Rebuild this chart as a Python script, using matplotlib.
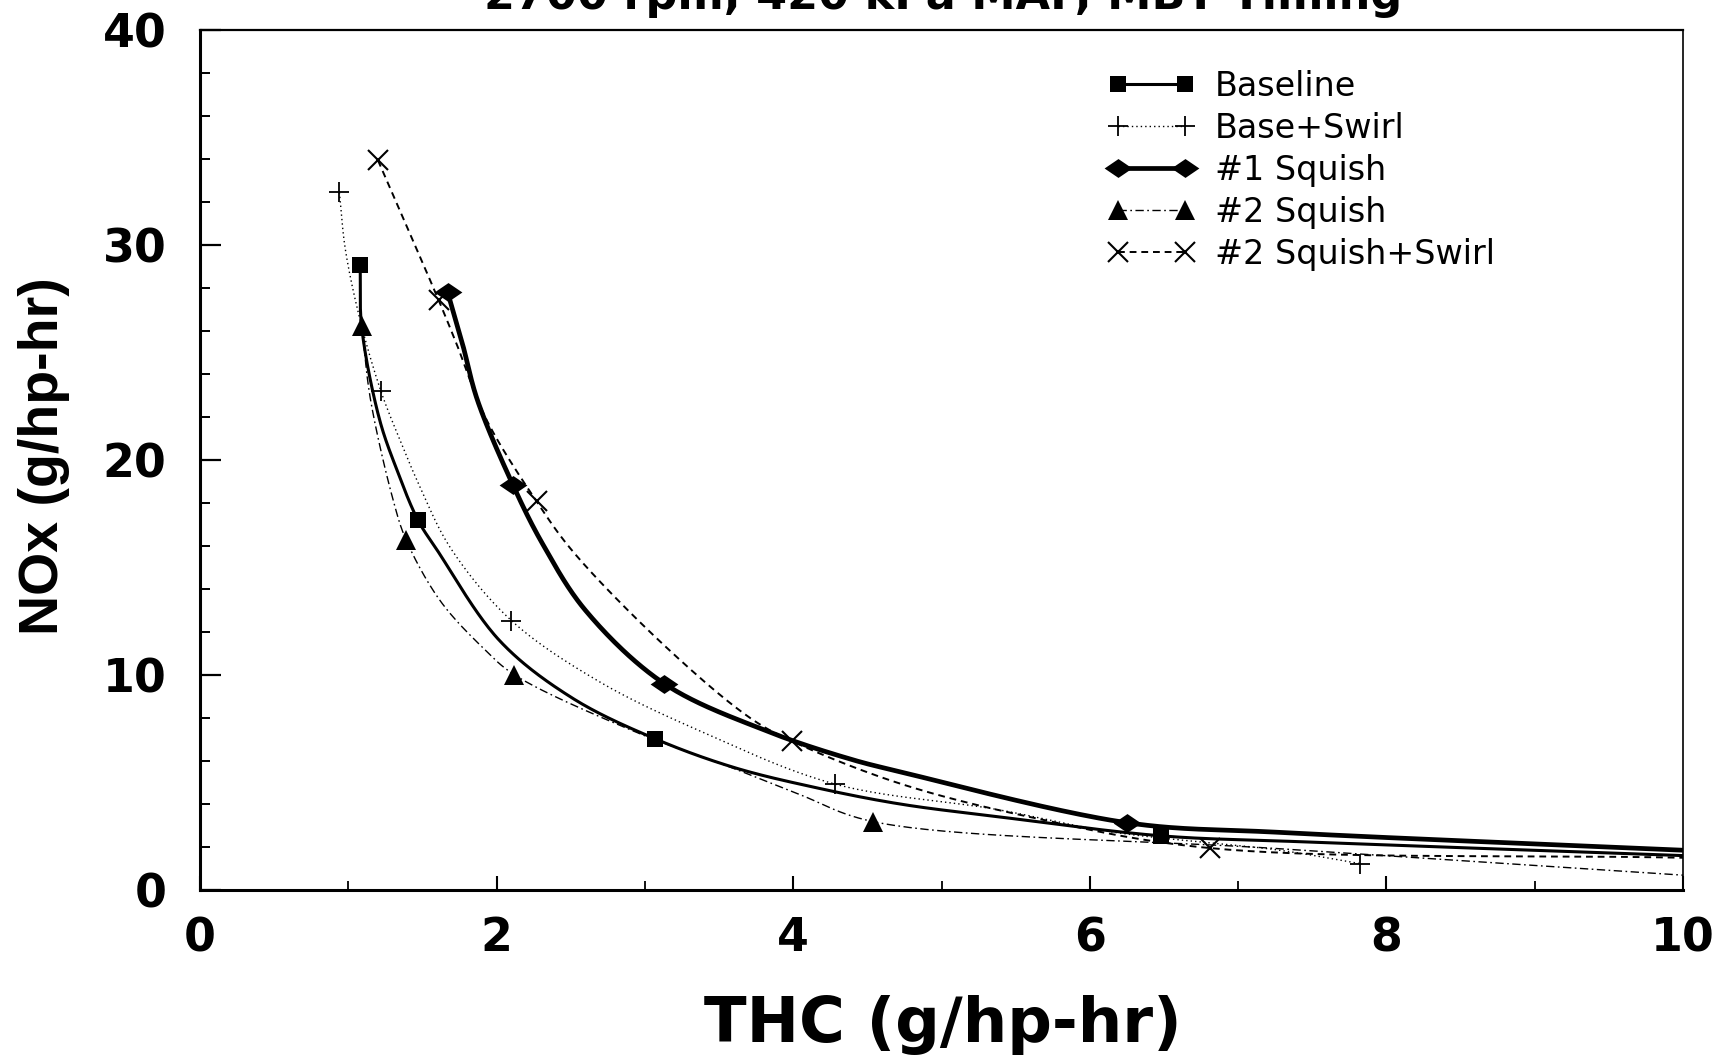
import numpy as np
import matplotlib
matplotlib.use("Agg")
import matplotlib.pyplot as plt
from matplotlib.lines import Line2D

# ---------------- data ----------------
title = "2700 rpm, 420 kPa MAP, MBT Timing"
x_label = "THC (g/hp-hr)"
y_label = "NOx (g/hp-hr)"
series_names = ["Baseline", "Base+Swirl", "#1 Squish", "#2 Squish", "#2 Squish+Swirl"]

# measured points (markers)
base_x = [1.08, 1.47, 3.07, 6.48]
base_y = [29.05, 17.2, 7.03, 2.52]
swirl_x = [0.94, 1.22, 2.10, 4.28, 7.82]
swirl_y = [32.45, 23.2, 12.53, 4.93, 1.23]
sq1_x = [1.67, 2.11, 3.13, 6.25]
sq1_y = [27.8, 18.84, 9.6, 3.13]
sq2_x = [1.09, 1.39, 2.12, 4.54]
sq2_y = [26.24, 16.28, 10.01, 3.18]
sq2sw_x = [1.20, 1.61, 2.27, 3.99, 6.81]
sq2sw_y = [33.94, 27.42, 18.07, 6.93, 1.95]

# fitted curves
base_cx = [1.08, 1.09, 1.21, 1.33, 1.47, 1.60, 2.02, 2.51, 3.07, 3.60, 4.16, 4.72, 5.39, 6.48, 7.40, 10.0]
base_cy = [29.05, 26.2, 21.9, 19.5, 17.2, 15.8, 11.6, 8.93, 7.03, 5.70, 4.75, 4.00, 3.40, 2.52, 2.25, 1.60]
swirl_cx = [0.94, 0.98, 1.08, 1.22, 1.35, 1.48, 1.69, 2.10, 2.69, 3.37, 4.28, 5.37, 6.15, 7.28, 7.82]
swirl_cy = [32.45, 29.8, 26.5, 23.2, 20.9, 18.8, 15.9, 12.53, 9.7, 7.4, 4.93, 3.75, 2.70, 1.85, 1.23]
sq1_cx = [1.67, 1.77, 1.87, 2.11, 2.31, 2.60, 3.13, 3.82, 4.38, 4.72, 6.25, 7.28, 10.0]
sq1_cy = [27.8, 25.4, 22.8, 18.84, 16.1, 13.0, 9.6, 7.4, 6.1, 5.5, 3.13, 2.68, 1.85]
sq2_cx = [1.09, 1.15, 1.30, 1.39, 1.62, 1.91, 2.12, 2.92, 3.60, 4.04, 4.54, 7.28, 10.0]
sq2_cy = [26.24, 22.8, 18.2, 16.28, 13.45, 11.25, 10.01, 7.4, 5.65, 4.45, 3.18, 1.92, 0.69]
sq2sw_cx = [1.20, 1.61, 1.73, 1.93, 2.27, 2.52, 3.15, 3.71, 3.99, 4.72, 5.64, 6.81, 10.0]
sq2sw_cy = [33.94, 27.42, 25.4, 21.9, 18.07, 15.7, 11.25, 8.0, 6.93, 4.95, 3.33, 1.95, 1.50]

x_ticks = [0, 2, 4, 6, 8, 10]
x_ticklabels = ["0", "2", "4", "6", "8", "10"]
x_minor = [1, 3, 5, 7, 9]
y_ticks = [0, 10, 20, 30, 40]
y_ticklabels = ["0", "10", "20", "30", "40"]
y_minor = [2, 4, 6, 8, 12, 14, 16, 18, 22, 24, 26, 28, 32, 34, 36, 38]

# ---------------- figure ----------------
W, H = 1735, 1059
fig = plt.figure(figsize=(W / 100, H / 100), dpi=100)
ax = fig.add_axes([200 / W, 1 - 890 / H, 1483 / W, (890 - 30) / H])
ax.set_xlim(0, 10)
ax.set_ylim(0, 40)


def smooth(xs, ys, n=40):
    """centripetal Catmull-Rom through the traced points (display space)"""
    P = ax.transData.transform(np.column_stack([xs, ys]))
    P = np.vstack([2 * P[0] - P[1], P, 2 * P[-1] - P[-2]])
    out = []
    for i in range(1, len(P) - 2):
        p0, p1, p2, p3 = P[i - 1], P[i], P[i + 1], P[i + 2]
        t0 = 0.0
        t1 = t0 + max(np.linalg.norm(p1 - p0), 1e-6) ** 0.5
        t2 = t1 + max(np.linalg.norm(p2 - p1), 1e-6) ** 0.5
        t3 = t2 + max(np.linalg.norm(p3 - p2), 1e-6) ** 0.5
        t = np.linspace(t1, t2, n)[:, None]
        A1 = (t1 - t) / (t1 - t0) * p0 + (t - t0) / (t1 - t0) * p1
        A2 = (t2 - t) / (t2 - t1) * p1 + (t - t1) / (t2 - t1) * p2
        A3 = (t3 - t) / (t3 - t2) * p2 + (t - t2) / (t3 - t2) * p3
        B1 = (t2 - t) / (t2 - t0) * A1 + (t - t0) / (t2 - t0) * A2
        B2 = (t3 - t) / (t3 - t1) * A2 + (t - t1) / (t3 - t1) * A3
        C = (t2 - t) / (t2 - t1) * B1 + (t - t1) / (t2 - t1) * B2
        out.append(C if i == 1 else C[1:])
    C = np.vstack(out)
    D = ax.transData.inverted().transform(C)
    return D[:, 0], D[:, 1]


diamond = [(-1, 0), (0, 0.68), (1, 0), (0, -0.68), (-1, 0)]

styles = [
    dict(ls="-", lw=2.2, marker="s", ms=12, mew=0),
    dict(ls=(0, (1, 2.2)), lw=1.0, marker="+", ms=14, mew=1.3),
    dict(ls="-", lw=3.4, marker=diamond, ms=20, mew=0),
    dict(ls=(0, (6, 2.5, 1.2, 2.5)), lw=1.0, marker="^", ms=14, mew=0),
    dict(ls=(0, (3.5, 2.5)), lw=1.4, marker="x", ms=14, mew=1.5),
]
markers_xy = [(base_x, base_y), (swirl_x, swirl_y), (sq1_x, sq1_y),
              (sq2_x, sq2_y), (sq2sw_x, sq2sw_y)]
curves_xy = [(base_cx, base_cy), (swirl_cx, swirl_cy), (sq1_cx, sq1_cy),
             (sq2_cx, sq2_cy), (sq2sw_cx, sq2sw_cy)]

handles = []
for (mx, my), (cx, cy), st in zip(markers_xy, curves_xy, styles):
    sx, sy = smooth(cx, cy)
    ax.plot(sx, sy, color="black", linestyle=st["ls"], lw=st["lw"],
            solid_capstyle="butt", clip_on=True, zorder=2)
    ax.plot(mx, my, linestyle="none", marker=st["marker"], ms=st["ms"],
            mew=st["mew"], color="black", zorder=3)
    handles.append(Line2D([], [], color="black", linestyle=st["ls"], lw=st["lw"],
                          marker=st["marker"], ms=st["ms"], mew=st["mew"]))

# ---------------- axes decoration ----------------
ax.set_xticks(x_ticks)
ax.set_xticklabels(x_ticklabels, fontsize=33, fontweight="bold", family="DejaVu Sans")
ax.set_xticks(x_minor, minor=True)
ax.set_yticks(y_ticks)
ax.set_yticklabels(y_ticklabels, fontsize=33, fontweight="bold", family="DejaVu Sans")
ax.set_yticks(y_minor, minor=True)
ax.tick_params(axis="x", which="major", direction="in", length=10, width=1.5, pad=19)
ax.tick_params(axis="x", which="minor", direction="in", length=6.5, width=1.3)
ax.tick_params(axis="y", which="major", direction="in", length=15, width=1.6, pad=24)
ax.tick_params(axis="y", which="minor", direction="in", length=7, width=1.4)
ax.tick_params(top=False, right=False, which="both")

ax.spines["left"].set_linewidth(2.2)
ax.spines["bottom"].set_linewidth(2.2)
ax.spines["top"].set_linewidth(1.6)
ax.spines["right"].set_linewidth(1.2)

fig.text(943 / W, 1 - 1025 / H, x_label, ha="center", va="center",
         fontsize=45, fontweight="bold", family="DejaVu Sans")
fig.text(44 / W, 1 - 456 / H, y_label, ha="center", va="center", rotation=90,
         fontsize=40, fontweight="bold", family="Liberation Sans")
fig.text(943 / W, 1 - 9 / H, title, ha="center", va="baseline",
         fontsize=32, fontweight="bold", family="DejaVu Sans")

leg = ax.legend(handles, series_names, loc="upper left",
                bbox_to_anchor=(1108 / W, 1 - 70 / H), bbox_transform=fig.transFigure,
                frameon=False, numpoints=2, handlelength=2.6, handletextpad=0.6,
                labelspacing=0.27, borderpad=0, borderaxespad=0,
                prop=dict(family="DejaVu Sans", size=24))

fig.savefig("out.png", dpi=100)
